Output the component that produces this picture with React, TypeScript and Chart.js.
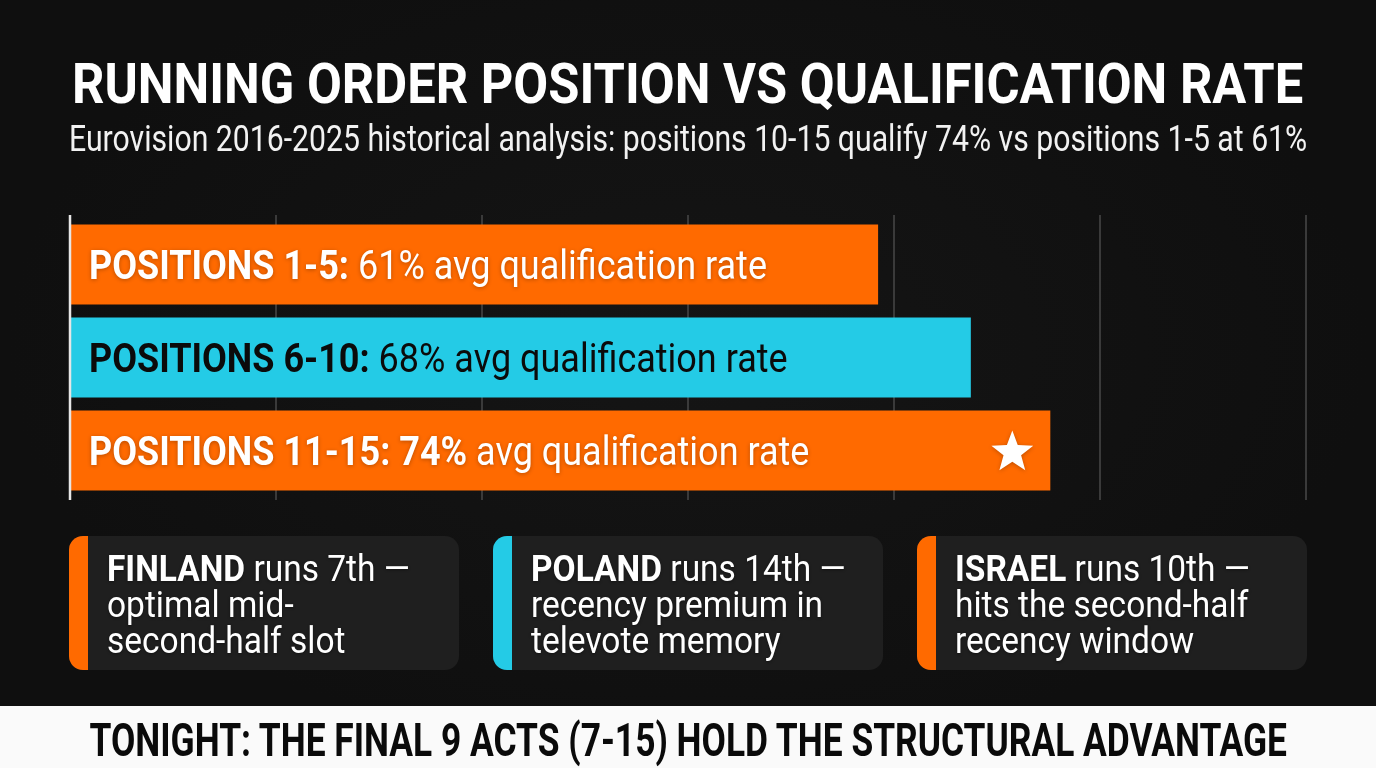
import { useEffect, useLayoutEffect, useRef, useState } from 'react';
import { Chart, registerables } from 'chart.js';

Chart.register(...registerables);

// data
const categories = ['POSITIONS 1-5', 'POSITIONS 6-10', 'POSITIONS 11-15'];
const rates = [61, 68, 74];
const barColors = ['#ff6a00', '#24cbe6', '#ff6a00'];
const labelColors = ['#ffffff', '#0b0b0b', '#ffffff'];
const starIndex = 2;
const axisMax = 93.3;
const gridValues = [0, 15.55, 31.1, 46.65, 62.2, 77.75, 93.3];

const cardNames = ['FINLAND', 'POLAND', 'ISRAEL'];
const cardRuns = ['runs 7th —', 'runs 14th —', 'runs 10th —'];
const cardLines = [
  ['optimal mid-', 'second-half slot'],
  ['recency premium in', 'televote memory'],
  ['hits the second-half', 'recency window'],
];
const cardColors = ['#ff6a00', '#24cbe6', '#ff6a00'];

const TITLE = 'RUNNING ORDER POSITION VS QUALIFICATION RATE';
const SUBTITLE = 'Eurovision 2016-2025 historical analysis: positions 10-15 qualify 74% vs positions 1-5 at 61%';
const FOOTER = 'TONIGHT: THE FINAL 9 ACTS (7-15) HOLD THE STRUCTURAL ADVANTAGE';

const FONT = 'Roboto, "Noto Sans", sans-serif';

function FitText({ text, width, top, size, weight, color }: {
  text: string; width: number; top: number; size: number; weight: number; color: string;
}) {
  const ref = useRef<HTMLSpanElement>(null);
  const [s, setS] = useState(1);
  useLayoutEffect(() => {
    const measure = () => {
      if (ref.current) setS(width / ref.current.offsetWidth);
    };
    measure();
    document.fonts?.ready.then(measure);
  }, [text, width]);
  return (
    <div style={{
      position: 'absolute', left: 0, top, width: 1376, display: 'flex',
      justifyContent: 'center', lineHeight: 1,
    }}>
      <span ref={ref} style={{
        display: 'inline-block', whiteSpace: 'nowrap', transform: `scaleX(${s})`,
        fontFamily: FONT, fontSize: size, fontWeight: weight, color,
      }}>{text}</span>
    </div>
  );
}

function drawStar(ctx: CanvasRenderingContext2D, cx: number, cy: number, r: number) {
  ctx.beginPath();
  for (let i = 0; i < 10; i++) {
    const rad = i % 2 === 0 ? r : r * 0.42;
    const a = -Math.PI / 2 + (i * Math.PI) / 5;
    const px = cx + rad * Math.cos(a);
    const py = cy + rad * Math.sin(a);
    if (i === 0) ctx.moveTo(px, py); else ctx.lineTo(px, py);
  }
  ctx.closePath();
  ctx.fill();
}

const gridPlugin = {
  id: 'customGrid',
  beforeDatasetsDraw(chart: Chart) {
    const { ctx, chartArea, scales } = chart;
    const x = scales.x;
    ctx.save();
    ctx.strokeStyle = '#3a3a3a';
    ctx.lineWidth = 2;
    gridValues.slice(1).forEach((v) => {
      const px = Math.round(x.getPixelForValue(v));
      ctx.beginPath();
      ctx.moveTo(px, chartArea.top - 3);
      ctx.lineTo(px, chartArea.bottom + 3);
      ctx.stroke();
    });
    ctx.restore();
  },
  afterDatasetsDraw(chart: Chart) {
    const { ctx, chartArea, scales } = chart;
    const x = scales.x;
    const meta = chart.getDatasetMeta(0);
    const x0 = x.getPixelForValue(0);
    ctx.save();
    // axis line
    ctx.strokeStyle = '#e6e6e6';
    ctx.lineWidth = 2.5;
    ctx.beginPath();
    ctx.moveTo(x0, chartArea.top - 3);
    ctx.lineTo(x0, chartArea.bottom + 3);
    ctx.stroke();

    const size = 40;
    const sx = 0.9;
    meta.data.forEach((el: any, i: number) => {
      const hi = i === starIndex;
      const bold = `${categories[i]}:` + (hi ? ` ${rates[i]}%` : '');
      const plain = (hi ? '' : ` ${rates[i]}%`) + ' avg qualification rate';
      ctx.save();
      ctx.translate(x0 + 19, el.y + size * 0.711 / 2);
      ctx.scale(sx, 1);
      ctx.fillStyle = labelColors[i];
      ctx.textBaseline = 'alphabetic';
      if (labelColors[i] === '#ffffff') {
        ctx.shadowColor = 'rgba(0,0,0,0.28)';
        ctx.shadowBlur = 4;
        ctx.shadowOffsetY = 1;
      }
      ctx.font = `700 ${size}px ${FONT}`;
      ctx.fillText(bold, 0, 0);
      const bw = ctx.measureText(bold).width;
      ctx.font = `400 ${size}px ${FONT}`;
      ctx.fillText(plain, bw, 0);
      ctx.restore();

      if (hi) {
        ctx.save();
        ctx.fillStyle = '#ffffff';
        ctx.shadowColor = 'rgba(0,0,0,0.25)';
        ctx.shadowBlur = 4;
        ctx.shadowOffsetY = 1;
        drawStar(ctx, el.x - 38, el.y + 2, 22);
        ctx.restore();
      }
    });
    ctx.restore();
  },
};

function BarChart() {
  const canvasRef = useRef<HTMLCanvasElement>(null);
  const chartRef = useRef<Chart | null>(null);

  useEffect(() => {
    if (!canvasRef.current) return;
    if (chartRef.current) chartRef.current.destroy();
    chartRef.current = new Chart(canvasRef.current, {
      type: 'bar',
      data: {
        labels: categories,
        datasets: [{
          data: rates,
          backgroundColor: barColors,
          borderWidth: 0,
          barPercentage: 0.86,
          categoryPercentage: 1,
        }],
      },
      options: {
        indexAxis: 'y',
        animation: false,
        responsive: true,
        maintainAspectRatio: false,
        layout: { padding: { left: 70, right: 70, top: 18, bottom: 13 } },
        scales: {
          x: { display: false, min: 0, max: axisMax },
          y: { display: false },
        },
        plugins: {
          legend: { display: false },
          tooltip: { enabled: false },
        },
      },
      plugins: [gridPlugin],
    });
    return () => {
      if (chartRef.current) {
        chartRef.current.destroy();
        chartRef.current = null;
      }
    };
  }, []);

  return (
    <div style={{ position: 'absolute', left: 0, top: 200, width: 1376, height: 310 }}>
      <canvas ref={canvasRef} />
    </div>
  );
}

function Card({ i, left }: { i: number; left: number }) {
  return (
    <div style={{
      position: 'absolute', left, top: 536, width: 390, height: 134,
      background: '#1f1f1f', borderRadius: 14, overflow: 'hidden',
    }}>
      <div style={{ position: 'absolute', left: 0, top: 0, bottom: 0, width: 19, background: cardColors[i] }} />
      <div style={{
        position: 'absolute', left: 38, top: 15, whiteSpace: 'nowrap',
        fontFamily: FONT, fontSize: 36, lineHeight: '36px', color: '#ffffff',
        transform: 'scaleX(0.93)', transformOrigin: 'left top',
        textShadow: '0 1px 3px rgba(0,0,0,0.4)',
      }}>
        <b style={{ fontWeight: 700 }}>{cardNames[i]}</b> {cardRuns[i]}<br />
        {cardLines[i][0]}<br />
        {cardLines[i][1]}
      </div>
    </div>
  );
}

export default function App() {
  return (
    <div style={{
      position: 'fixed', left: 0, top: 0, width: 1376, height: 768, overflow: 'hidden',
      background: 'radial-gradient(ellipse at 50% 45%, #151515 0%, #0f0f0f 70%)',
    }}>
      <FitText text={TITLE} width={1231} top={57} size={55} weight={700} color="#ffffff" />
      <FitText text={SUBTITLE} width={1238} top={121} size={36} weight={400} color="#f2f2f2" />
      <BarChart />
      <Card i={0} left={69} />
      <Card i={1} left={493} />
      <Card i={2} left={917} />
      <div style={{ position: 'absolute', left: 0, top: 706, width: 1376, height: 62, background: '#fafafa' }} />
      <FitText text={FOOTER} width={1197} top={717} size={46} weight={700} color="#0a0a0a" />
    </div>
  );
}
